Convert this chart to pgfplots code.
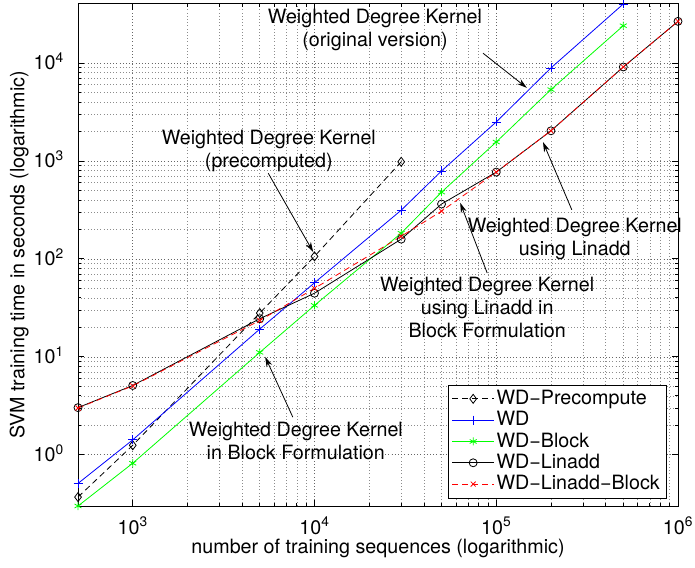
\documentclass[border=0pt]{standalone}
\usepackage{fontspec}
\setmainfont{TeX Gyre Heros}
\usepackage{pgfplots}
\pgfplotsset{compat=1.18}
\usetikzlibrary{arrows.meta}

\begin{document}
\fontsize{19.7}{23}\selectfont
\begin{tikzpicture}
\begin{axis}[
  scale only axis,
  width=600pt, height=502pt,
  xmode=log, ymode=log,
  xmin=500, xmax=1000000,
  ymin=0.3, ymax=40000,
  xtick={1000,10000,100000,1000000},
  xticklabels={10\textsuperscript{3},10\textsuperscript{4},10\textsuperscript{5},10\textsuperscript{6}},
  ytick={1,10,100,1000,10000},
  yticklabels={10\textsuperscript{0},10\textsuperscript{1},10\textsuperscript{2},10\textsuperscript{3},10\textsuperscript{4}},
  xticklabel style={anchor=base, inner sep=0pt, yshift=-28.5pt},
  yticklabel style={anchor=base east, inner sep=0pt, xshift=-14pt, yshift=-6.8pt},
  xlabel={number of training sequences (logarithmic)},
  ylabel={SVM training time in seconds (logarithmic)},
  every axis x label/.style={at={(axis description cs:0.5,-0.0956)}, anchor=base, inner sep=0pt},
  every axis y label/.style={at={(axis description cs:-0.098,0.5)}, anchor=center, rotate=90},
  grid=both,
  major grid style={line width=0.6pt, dash pattern=on 0.6pt off 2.6pt, black!60},
  minor grid style={line width=0.6pt, dash pattern=on 0.6pt off 2.6pt, black!45},
  axis line style={line width=1pt},
  tick style={line width=0.8pt, black},
  major tick length=6pt, minor tick length=3pt,
  tick align=inside,
  clip=false,
  every axis plot/.append style={line width=0.8pt},
  legend image code/.code={\draw[mark repeat=2,mark phase=2,#1] plot coordinates {(0pt,0pt) (21pt,0pt) (42pt,0pt)};},
  legend style={at={(0.98,0.016)}, anchor=south east,
    row sep=0pt, inner xsep=4pt, inner ysep=3pt, font=\fontsize{19.7}{21}\selectfont},
  legend cell align=left,
]
\addplot[black, dash pattern=on 6pt off 4pt, mark=diamond, mark size=4.5pt, mark options={solid}]
  coordinates {(500,0.37) (1000,1.25) (5000,28) (10000,106) (30000,980)};
\addplot[blue, mark=+, mark size=4.5pt]
  coordinates {(500,0.51) (1000,1.42) (5000,19.2) (10000,57) (30000,314) (50000,790) (100000,2500) (200000,8900) (500000,40000)};
\addplot[green, mark=asterisk, mark size=4pt]
  coordinates {(500,0.3) (1000,0.82) (5000,11.1) (10000,33.5) (30000,183) (50000,480) (100000,1560) (200000,5350) (500000,24000)};
\addplot[black, mark=o, mark size=4pt]
  coordinates {(500,3.03) (1000,5.1) (5000,24.5) (10000,44.6) (30000,159) (50000,363) (100000,769) (200000,2030) (500000,9100) (1000000,26600)};
\addplot[red, dash pattern=on 6pt off 4pt, mark=x, mark size=3.5pt, mark options={solid}]
  coordinates {(500,3.0) (1000,5.05) (5000,23.5) (10000,50) (30000,170) (50000,307) (100000,769) (200000,2030) (500000,9100) (1000000,26600)};
\legend{WD\textminus Precompute,WD,WD\textminus Block,WD\textminus Linadd,WD\textminus Linadd\textminus Block}

\tikzset{ann/.style={align=center, inner sep=0pt}, arr/.style={-{Stealth[length=10pt,width=6pt]}, line width=0.8pt, black}}
\node[ann] at (rel axis cs:0.495,0.948) {Weighted Degree Kernel\\(original version)};
\draw[arr] (rel axis cs:0.675,0.902) -- (rel axis cs:0.748,0.833);
\node[ann] at (rel axis cs:0.318,0.707) {Weighted Degree Kernel\\(precomputed)};
\draw[arr] (rel axis cs:0.317,0.663) -- (rel axis cs:0.392,0.506);
\node[ann] at (rel axis cs:0.828,0.532) {Weighted Degree Kernel\\using Linadd};
\draw[arr] (rel axis cs:0.823,0.590) -- (rel axis cs:0.775,0.725);
\node[ann] at (rel axis cs:0.682,0.396) {Weighted Degree Kernel\\using Linadd in\\Block Formulation};
\draw[arr] (rel axis cs:0.682,0.464) -- (rel axis cs:0.637,0.604);
\node[ann] at (rel axis cs:0.363,0.129) {Weighted Degree Kernel\\in Block Formulation};
\draw[arr] (rel axis cs:0.358,0.177) -- (rel axis cs:0.312,0.297);
\coordinate (bl) at (rel axis cs:0,0);
\coordinate (tr) at (rel axis cs:1,1);
\end{axis}
\pgfresetboundingbox
\useasboundingbox ([xshift=-78pt,yshift=-61pt]bl) rectangle ([xshift=17pt,yshift=4pt]tr);
\end{tikzpicture}
\end{document}
